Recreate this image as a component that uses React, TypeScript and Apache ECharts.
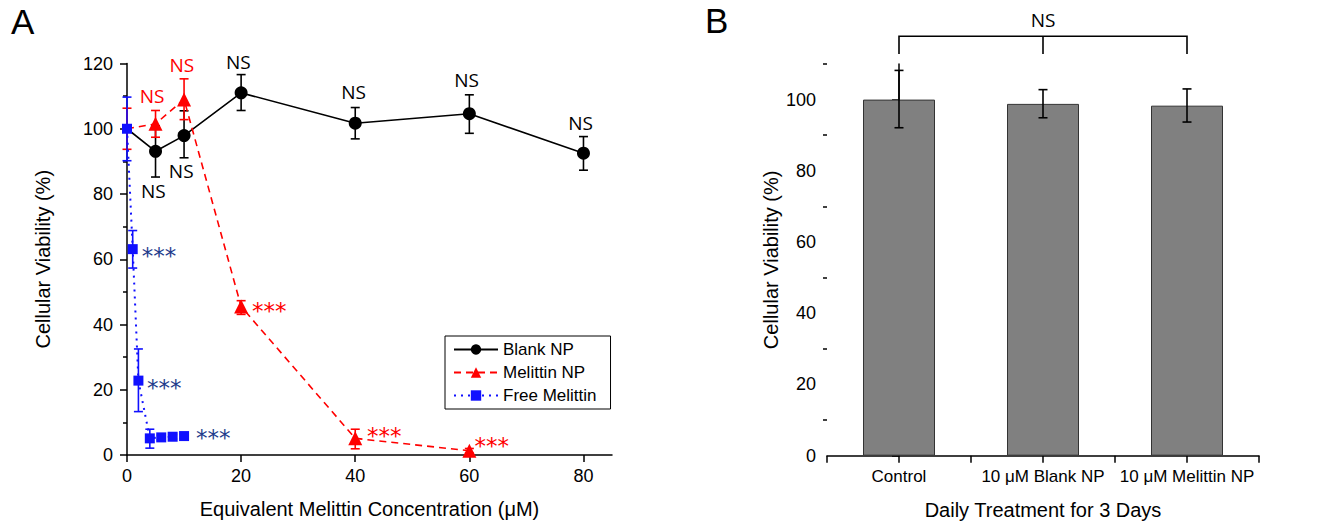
import React, { useEffect, useRef } from "react";
import * as echarts from "echarts";

// ---------- Panel A data ----------
const blankX = [0, 5, 10, 20, 40, 60, 80];
const blankY = [100, 93.1, 97.9, 111.0, 101.7, 104.6, 92.5];
const blankLo = [100, 85.2, 91.1, 105.6, 96.9, 98.6, 87.3];
const blankHi = [100, 100.9, 105.5, 116.6, 106.5, 110.4, 97.6];

const melNpX = [0, 5, 10, 20, 40, 60];
const melNpY = [100, 101.5, 109.0, 45.5, 5.1, 1.3];
const melNpLo = [93.7, 97.4, 102.8, 43.1, 1.9, 0.6];
const melNpHi = [106.3, 105.6, 115.3, 47.3, 7.9, 2.0];

const freeX = [0, 1, 2, 4, 6, 8, 10];
const freeY = [100, 63.1, 22.8, 5.1, 5.4, 5.6, 5.8];
const freeLo = [90.2, 57.3, 13.3, 2.1, 4.7, 4.9, 5.1];
const freeHi = [109.7, 68.8, 32.5, 7.9, 6.1, 6.3, 6.5];

const xTicksA = [0, 20, 40, 60, 80];

// annotation anchors (data coordinates)
const nsBlankPos = [[4.6, 80.8], [9.5, 86.9], [19.5, 120.5], [39.7, 111.4], [59.5, 115.0], [79.5, 101.9]];
const nsMelPos = [[4.4, 109.9], [9.6, 119.6]];
const starsMelPos = [[21.9, 45.7], [42.05, 7.4], [60.9, 4.3]];
const starsFreePos = [[2.6, 62.4], [3.5, 22.2], [12.1, 6.7]];

// ---------- Panel B data ----------
const groups = ["Control", "10 \u03bcM Blank NP", "10 \u03bcM Melittin NP"];
const barY = [100, 98.8, 98.3];
const barLo = [92.1, 94.9, 93.7];
const barHi = [108.2, 102.8, 103.0];
const yMajorB = [0, 20, 40, 60, 80, 100];
const yMinorB = [10, 30, 50, 70, 90, 110];
const bracketX = [0, 1, 2];
const bracketTop = 117.8;
const bracketLeg = 112.8;
const bracketTextY = 122.4;

const SANS = "'Liberation Sans', Arial, sans-serif";
const NSFONT = "'Open Sans', sans-serif";
const STARFONT = "'DejaVu Sans', sans-serif";

function errorSeries(xs: number[], lo: number[], hi: number[], color: string, xi: number, yi: number, z: number) {
  return {
    type: "custom",
    xAxisIndex: xi,
    yAxisIndex: yi,
    silent: true,
    clip: false,
    z,
    data: xs.map((x, i) => [x, lo[i], hi[i]]),
    renderItem: (params: any, api: any) => {
      const x = api.value(0);
      const l = api.value(1);
      const h = api.value(2);
      if (l === h) return { type: "group", children: [] };
      const p1 = api.coord([x, h]);
      const p2 = api.coord([x, l]);
      const w = 4.5;
      const st = { stroke: color, lineWidth: 1.6 };
      return {
        type: "group",
        children: [
          { type: "line", shape: { x1: p1[0], y1: p1[1], x2: p2[0], y2: p2[1] }, style: st },
          { type: "line", shape: { x1: p1[0] - w, y1: p1[1], x2: p1[0] + w, y2: p1[1] }, style: st },
          { type: "line", shape: { x1: p2[0] - w, y1: p2[1], x2: p2[0] + w, y2: p2[1] }, style: st },
        ],
      };
    },
  };
}

function textSeries(pts: number[][], text: string, color: string, font: string, align: string, dy: number) {
  return {
    type: "custom",
    xAxisIndex: 0,
    yAxisIndex: 0,
    silent: true,
    clip: false,
    z: 12,
    data: pts,
    renderItem: (params: any, api: any) => {
      const p = api.coord([api.value(0), api.value(1)]);
      return {
        type: "text",
        x: p[0],
        y: p[1] + dy,
        style: { text, fill: color, font, align, verticalAlign: "middle" },
      };
    },
  };
}

export default function App() {
  const ref = useRef<HTMLDivElement>(null);
  useEffect(() => {
    if (!ref.current) return;
    const chart = echarts.init(ref.current, null, { renderer: "svg" });
    const axisLineStyle = { color: "#000", width: 1.5 };
    const option: any = {
      animation: false,
      backgroundColor: "#fff",
      grid: [
        { left: 127, top: 63.5, width: 485, height: 391.5 },
        { left: 827, top: 64, width: 432, height: 391.7 },
      ],
      legend: {
        data: ["Blank NP", "Melittin NP", "Free Melittin"],
        orient: "vertical",
        left: 445,
        top: 336,
        padding: [5, 14, 5, 8],
        borderColor: "#000",
        borderWidth: 1,
        itemWidth: 44,
        itemHeight: 13,
        itemGap: 6,
        textStyle: { fontSize: 17, fontFamily: SANS, color: "#000" },
      },
      graphic: [
        { type: "text", left: 11, top: 4, style: { text: "A", font: "35px " + SANS, fill: "#000" } },
        { type: "text", left: 705, top: 3, style: { text: "B", font: "35px " + SANS, fill: "#000" } },
      ],
      xAxis: [
        {
          type: "value",
          gridIndex: 0,
          min: 0,
          max: 85,
          interval: 20,
          splitLine: { show: false },
          axisLine: { lineStyle: axisLineStyle },
          axisTick: { length: 7, lineStyle: { width: 1.5, color: "#000" }, customValues: xTicksA },
          axisLabel: { fontSize: 18, fontFamily: SANS, color: "#000", margin: 12, customValues: xTicksA },
          name: "Equivalent Melittin Concentration (\u03bcM)",
          nameLocation: "middle",
          nameGap: 44,
          nameTextStyle: { fontSize: 20, fontFamily: SANS, color: "#000" },
        },
        {
          type: "value",
          gridIndex: 1,
          min: -0.5,
          max: 2.5,
          interval: 0.5,
          splitLine: { show: false },
          axisLine: { lineStyle: axisLineStyle },
          axisTick: { length: 7, lineStyle: { width: 1.5, color: "#000" } },
          axisLabel: {
            fontSize: 17,
            fontFamily: SANS,
            color: "#000",
            margin: 12,
            showMinLabel: true,
            showMaxLabel: true,
            formatter: (v: number) => (Number.isInteger(v) && v >= 0 && v <= 2 ? groups[v] : ""),
          },
          name: "Daily Treatment for 3 Days",
          nameLocation: "middle",
          nameGap: 44,
          nameTextStyle: { fontSize: 20, fontFamily: SANS, color: "#000" },
        },
      ],
      yAxis: [
        {
          type: "value",
          gridIndex: 0,
          position: "left",
          min: 0,
          max: 120,
          interval: 20,
          splitLine: { show: false },
          axisLine: { show: true, lineStyle: axisLineStyle },
          axisTick: { show: true, length: 7, lineStyle: { width: 1.5, color: "#000" } },
          minorTick: { show: true, splitNumber: 2, length: 4, lineStyle: { width: 1.5, color: "#000" } },
          axisLabel: { fontSize: 18, fontFamily: SANS, color: "#000", margin: 14 },
          name: "Cellular Viability (%)",
          nameLocation: "middle",
          nameGap: 74,
          nameTextStyle: { fontSize: 20, fontFamily: SANS, color: "#000" },
        },
        {
          type: "value",
          gridIndex: 1,
          position: "left",
          min: 0,
          max: 110,
          interval: 10,
          splitLine: { show: false },
          axisLine: { show: true, lineStyle: axisLineStyle },
          axisTick: { show: true, length: 7, lineStyle: { width: 1.5, color: "#000" }, customValues: yMajorB },
          axisLabel: { fontSize: 18, fontFamily: SANS, color: "#000", margin: 11, customValues: yMajorB },
          name: "Cellular Viability (%)",
          nameLocation: "middle",
          nameGap: 46,
          nameTextStyle: { fontSize: 20, fontFamily: SANS, color: "#000" },
        },
        {
          type: "value",
          gridIndex: 1,
          position: "left",
          offset: 0,
          min: 0,
          max: 110,
          interval: 10,
          splitLine: { show: false },
          axisLine: { show: false },
          axisTick: { show: true, length: 4, lineStyle: { width: 1.5, color: "#000" }, customValues: yMinorB },
          axisLabel: { show: false },
        },
      ],
      series: [
        {
          name: "Blank NP",
          type: "line",
          xAxisIndex: 0,
          yAxisIndex: 0,
          z: 4,
          symbol: "circle",
          symbolSize: 13,
          itemStyle: { color: "#000" },
          lineStyle: { color: "#000", width: 1.6, type: "solid" },
          data: blankX.map((x, i) => (i === 0 ? { value: [x, blankY[i]], symbol: "none" } : [x, blankY[i]])),
        },
        {
          name: "Melittin NP",
          type: "line",
          xAxisIndex: 0,
          yAxisIndex: 0,
          z: 5,
          symbol: "triangle",
          symbolSize: 14,
          itemStyle: { color: "#ff0000" },
          lineStyle: { color: "#ff0000", width: 1.6, type: [7, 5] },
          data: melNpX.map((x, i) => (i === 0 ? { value: [x, melNpY[i]], symbol: "none" } : [x, melNpY[i]])),
        },
        {
          name: "Free Melittin",
          type: "line",
          xAxisIndex: 0,
          yAxisIndex: 0,
          z: 6,
          symbol: "rect",
          symbolSize: 10,
          itemStyle: { color: "#1010ff" },
          lineStyle: { color: "#1010ff", width: 2, type: [2, 5] },
          data: freeX.map((x, i) => [x, freeY[i]]),
        },
        errorSeries(blankX, blankLo, blankHi, "#000", 0, 0, 4),
        errorSeries(melNpX, melNpLo, melNpHi, "#ff0000", 0, 0, 5),
        errorSeries(freeX, freeLo, freeHi, "#1010ff", 0, 0, 6),
        textSeries(nsBlankPos, "NS", "#000", "19px " + NSFONT, "center", 0),
        textSeries(nsMelPos, "NS", "#ff0000", "19px " + NSFONT, "center", 0),
        textSeries(starsMelPos, "***", "#ff0000", "23px " + STARFONT, "left", 5),
        textSeries(starsFreePos, "***", "#1f3c8c", "23px " + STARFONT, "left", 5),
        {
          name: "bars",
          type: "bar",
          xAxisIndex: 1,
          yAxisIndex: 1,
          barWidth: 72,
          itemStyle: { color: "#808080", borderColor: "#333", borderWidth: 1 },
          data: barY.map((v, i) => [i, v]),
        },
        errorSeries([0, 1, 2], barLo, barHi, "#000", 1, 1, 8),
        {
          type: "custom",
          xAxisIndex: 1,
          yAxisIndex: 1,
          silent: true,
          clip: false,
          z: 9,
          data: [[0]],
          renderItem: (params: any, api: any) => {
            const tops = bracketX.map((x) => api.coord([x, bracketTop]));
            const legs = bracketX.map((x) => api.coord([x, bracketLeg]));
            const mid = api.coord([bracketX[1], bracketTextY]);
            const st = { stroke: "#000", lineWidth: 1.6, fill: null };
            return {
              type: "group",
              children: [
                {
                  type: "polyline",
                  shape: { points: [legs[0], tops[0], tops[2], legs[2]] },
                  style: st,
                },
                { type: "line", shape: { x1: tops[1][0], y1: tops[1][1], x2: legs[1][0], y2: legs[1][1] }, style: st },
                {
                  type: "text",
                  x: mid[0],
                  y: mid[1],
                  style: { text: "NS", fill: "#000", font: "19px " + NSFONT, align: "center", verticalAlign: "middle" },
                },
              ],
            };
          },
        },
      ],
    };
    chart.setOption(option);
    return () => chart.dispose();
  }, []);
  return <div ref={ref} style={{ position: "fixed", left: 0, top: 0, width: 1328, height: 526, background: "#fff" }} />;
}
